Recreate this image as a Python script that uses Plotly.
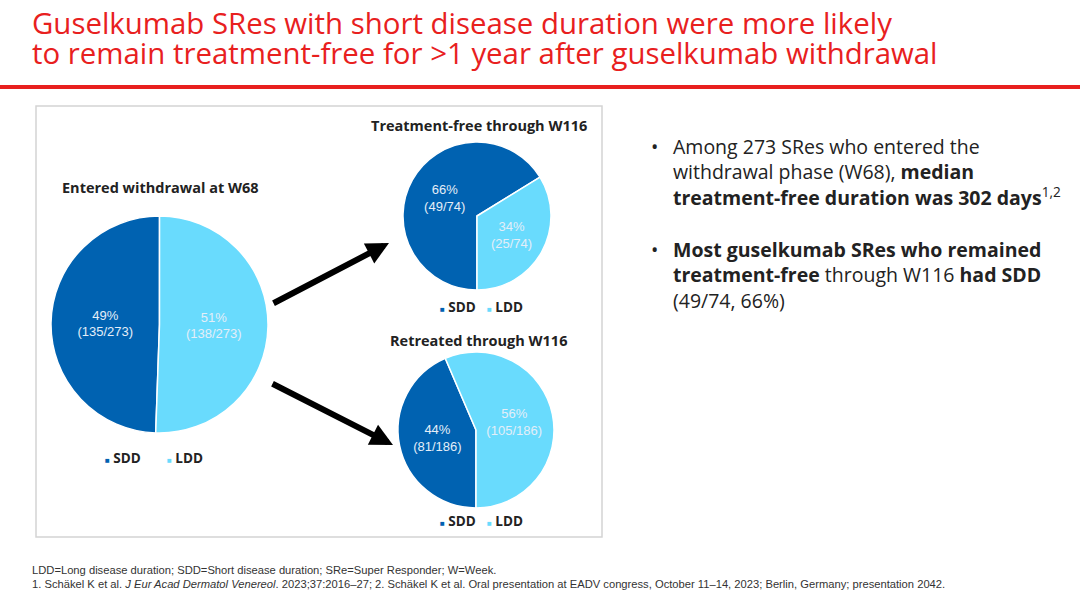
import plotly.graph_objects as go

# Colours
sdd_color = "#0062b1"
ldd_color = "#69dbfd"
red = "#e8201e"
ink = "#222222"

# ------------------------------
# Data
# ------------------------------

groups = ["SDD", "LDD"]

entered_counts = [135, 138]
free_counts = [49, 25]
retreated_counts = [81, 105]

pie_titles = [
    "Entered withdrawal at W68",
    "Treatment-free through W116",
    "Retreated through W116",
]

title_lines = [
    "Guselkumab SRes with short disease duration were more likely",
    "to remain treatment-free for >1 year after guselkumab withdrawal",
]

bullets = [
    "Among 273 SRes who entered the<br>withdrawal phase (W68), <b>median</b><br>"
    "<b>treatment-free duration was 302 days</b><sup>1,2</sup>",
    "<b>Most guselkumab SRes who remained</b><br><b>treatment-free</b> through W116 "
    "<b>had SDD</b><br>(49/74, 66%)",
]

footnotes = [
    "LDD=Long disease duration; SDD=Short disease duration; SRe=Super Responder; W=Week.",
    "1. Schäkel K et al. <i>J Eur Acad Dermatol Venereol</i>. 2023;37:2016–27; "
    "2. Schäkel K et al. Oral presentation at EADV congress, October 11–14, 2023; "
    "Berlin, Germany; presentation 2042.",
]

W, H = 1080, 603


def px(x):
    return x / W


def py(y):
    return 1 - y / H


def _pie(counts, box, direction, rotation):
    """box = (left, top, right, bottom) in page pixels"""
    total = sum(counts)
    l, t, r, b = box
    return go.Pie(
        labels=groups,
        values=counts,
        sort=False,
        direction=direction,
        rotation=rotation,
        domain=dict(x=[px(l), px(r)], y=[py(b), py(t)]),
        marker=dict(colors=[sdd_color, ldd_color], line=dict(color="white", width=1.5)),
        texttemplate="%{percent:.0%}<br>(%{value}/" + str(total) + ")",
        textposition="inside",
        insidetextorientation="horizontal",
        textfont=dict(size=13, color="#e4eef8", family="Liberation Sans"),
        hoverinfo="label+value+percent",
        showlegend=False,
    )


fig = go.Figure()
fig.add_trace(_pie(entered_counts, (51, 216, 268, 433), "clockwise", 182))
fig.add_trace(_pie(free_counts, (403, 142, 551, 290), "clockwise", 180))
fig.add_trace(_pie(retreated_counts, (398, 352, 554, 508), "clockwise", 180))

annotations = []

# Slide title (two separate lines to keep the tight line spacing)
for txt, yy in zip(title_lines, [23, 53]):
    annotations.append(
        dict(x=px(30), y=py(yy), text=txt, xanchor="left", yanchor="middle",
             font=dict(size=29.4, color=red, family="Open Sans"))
    )

# Pie titles
for txt, (xx, yy) in zip(pie_titles, [(160, 187), (479, 125), (478, 340)]):
    annotations.append(
        dict(x=px(xx), y=py(yy), text="<b>" + txt + "</b>", xanchor="center",
             yanchor="middle", font=dict(size=14.5, color=ink, family="Open Sans"))
    )

# Legends under each pie
legend_spots = [
    ((103, 165), 458),
    ((438, 485), 307),
    ((438, 485), 521),
]
for xs, yy in legend_spots:
    for lab, col, xx in zip(groups, [sdd_color, ldd_color], xs):
        annotations.append(
            dict(x=px(xx), y=py(yy),
                 text=f'<span style="color:{col};font-size:8px">■</span> <b>{lab}</b>',
                 xanchor="left", yanchor="middle",
                 font=dict(size=13.5, color=ink, family="Open Sans"))
        )

# Arrows
for (hx, hy), (tx, ty) in [((389, 243), (272, 304)), ((393, 445), (271, 383))]:
    annotations.append(
        dict(x=px(hx), y=py(hy), ax=tx - hx, ay=ty - hy, text="", showarrow=True,
             arrowhead=2, arrowsize=0.75, arrowwidth=6, arrowcolor="black", standoff=0)
    )

# Bullet text
for txt, yy in zip(bullets, [131, 234]):
    annotations.append(
        dict(x=px(649), y=py(yy), text="•", xanchor="left", yanchor="top",
             font=dict(size=19.5, color=ink, family="Open Sans"))
    )
    annotations.append(
        dict(x=px(671), y=py(yy), text=txt, xanchor="left", yanchor="top", align="left",
             font=dict(size=19.5, color=ink, family="Open Sans"))
    )

# Footnotes
for txt, yy in zip(footnotes, [570, 584]):
    annotations.append(
        dict(x=px(30), y=py(yy), text=txt, xanchor="left", yanchor="middle",
             font=dict(size=11.2, color="#333333", family="Liberation Sans"))
    )

for a in annotations:
    a.setdefault("xref", "paper")
    a.setdefault("yref", "paper")
    a.setdefault("showarrow", False)

shapes = [
    # red rule under title
    dict(type="line", xref="paper", yref="paper", x0=0, x1=1, y0=py(87), y1=py(87),
         line=dict(color=red, width=4)),
    # grey frame around the pies
    dict(type="rect", xref="paper", yref="paper", x0=px(36), x1=px(602), y0=py(537),
         y1=py(106), line=dict(color="#d4d4d4", width=1.5)),
]

fig.update_layout(
    width=W,
    height=H,
    margin=dict(l=0, r=0, t=0, b=0),
    paper_bgcolor="white",
    plot_bgcolor="white",
    font_family="Liberation Sans",
    annotations=annotations,
    shapes=shapes,
    showlegend=False,
)

fig.write_html(
    "out.html",
    config={"displayModeBar": False},
    post_script="document.body.style.margin='0';",
)
